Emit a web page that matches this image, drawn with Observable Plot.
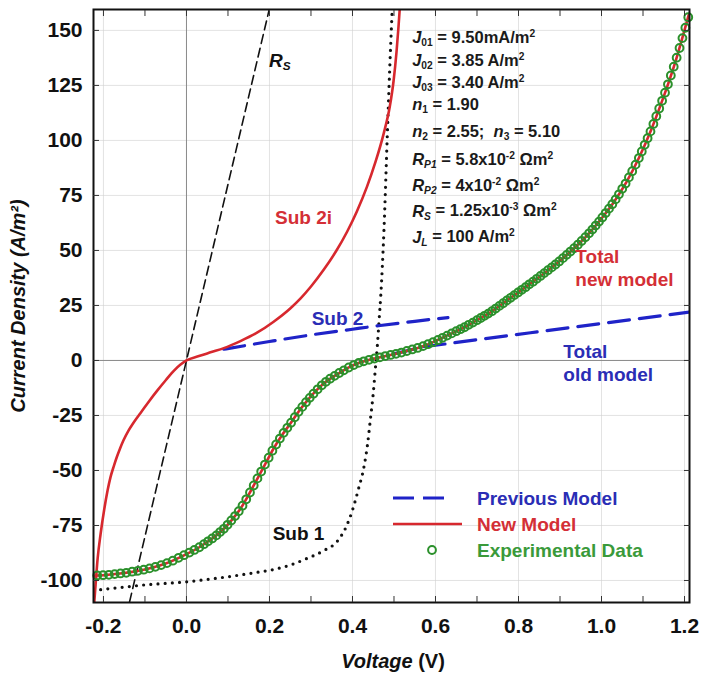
<!DOCTYPE html>
<html><head><meta charset="utf-8">
<script src="https://cdn.jsdelivr.net/npm/d3@7"></script>
<script src="https://cdn.jsdelivr.net/npm/@observablehq/plot@0.6"></script>
<style>
body{margin:0;background:#fff;}
#wrap{position:relative;width:705px;height:675px;font-family:"Liberation Sans",Arial,sans-serif;overflow:hidden;}
.lbl{position:absolute;white-space:nowrap;font-weight:bold;line-height:1;}
.lbl sub{font-size:0.62em;vertical-align:-0.28em;}
.lbl sup{font-size:0.62em;vertical-align:0.6em;}
</style></head><body><div id="wrap"></div>
<script>
// ---- tick values ----
const xTicks = [-0.2, 0, 0.2, 0.4, 0.6, 0.8, 1.0, 1.2];
const xMinor = [-0.2, -0.1, 0, 0.1, 0.2, 0.3, 0.4, 0.5, 0.6, 0.7, 0.8, 0.9, 1.0, 1.1, 1.2];
const yTicks = [-100, -75, -50, -25, 0, 25, 50, 75, 100, 125, 150];

// ---- experimental data (green circles) ----
const expV = [-0.215,-0.201,-0.187,-0.173,-0.159,-0.145,-0.131,-0.117,-0.103,-0.089,-0.075,-0.061,-0.047,-0.033,-0.019,-0.006,
0.007,0.019,0.031,0.042,0.052,0.062,0.072,0.081,0.090,0.099,0.108,0.117,0.126,0.135,0.144,0.153,0.162,0.171,0.180,0.189,0.198,
0.207,0.216,0.225,0.234,0.243,0.252,0.261,0.270,0.279,0.288,0.297,0.306,0.316,0.326,0.336,0.346,0.357,0.368,0.379,0.391,0.403,
0.415,0.427,0.440,0.453,0.466,0.479,0.492,0.505,0.518,0.531,0.544,0.557,0.570,0.582,0.594,0.606,0.617,0.628,0.639,0.650,0.660,
0.670,0.680,0.690,0.700,0.709,0.718,0.727,0.736,0.745,0.754,0.763,0.772,0.781,0.790,0.799,0.808,0.817,0.826,0.835,0.844,0.853,
0.862,0.871,0.880,0.889,0.898,0.907,0.916,0.925,0.934,0.943,0.952,0.961,0.970,0.978,0.986,0.994,1.002,1.010,1.018,1.026,1.034,
1.042,1.050,1.058,1.066,1.074,1.082,1.090,1.097,1.104,1.111,1.118,1.125,1.132,1.139,1.146,1.153,1.160,1.167,1.174,1.181,1.188,
1.195,1.202,1.209];
const expJ = [-97.7,-97.6,-97.4,-97.1,-96.8,-96.5,-96.0,-95.6,-95.1,-94.5,-93.8,-93.0,-92.1,-91.0,-89.7,-88.5,
-87.3,-86.1,-84.9,-83.5,-82.2,-80.9,-79.5,-78.0,-76.5,-74.7,-72.7,-70.7,-68.5,-66.0,-63.1,-60.0,-56.8,-53.6,-50.5,-47.3,-44.2,
-41.0,-38.2,-35.5,-32.9,-30.6,-28.3,-25.8,-23.3,-21.1,-19.0,-17.0,-15.1,-13.1,-11.3,-9.7,-8.3,-7.0,-5.7,-4.5,-3.2,-2.1,
-1.1,-0.4,0.3,0.9,1.4,2.0,2.5,3.0,3.6,4.3,5.0,5.7,6.5,7.4,8.3,9.3,10.3,11.3,12.3,13.3,14.2,
15.1,16.2,17.2,18.3,19.3,20.3,21.3,22.4,23.6,24.8,26.0,27.3,28.5,29.7,30.9,32.1,33.3,34.6,35.8,37.1,38.4,
39.7,41.0,42.3,43.6,45.0,46.5,48.0,49.5,51.0,52.6,54.3,56.0,57.8,59.5,61.3,63.1,65.0,67.0,69.0,71.0,73.2,
75.5,78.0,80.4,83.2,86.0,89.0,92.0,95.0,98.0,101.0,104.1,107.5,111.0,114.5,118.0,121.7,125.5,129.5,133.5,137.6,142.0,
146.5,151.2,156.0];

// ---- new model total (red line under circles) ----
const newV = [-0.224,-0.20,-0.15,-0.10,-0.05,0.00,0.03,0.05,0.07,0.09,0.11,0.13,0.15,0.17,0.19,0.21,0.23,0.25,0.27,0.29,0.31,0.33,
0.35,0.37,0.39,0.41,0.43,0.45,0.47,0.50,0.53,0.57,0.60,0.63,0.67,0.70,0.73,0.76,0.80,0.84,0.87,0.90,0.94,0.97,1.00,1.03,1.06,
1.09,1.12,1.15,1.18,1.21];
const newJ = [-97.8,-97.6,-96.6,-95.0,-92.3,-88.0,-85.0,-82.5,-79.8,-76.5,-72.3,-67.4,-61,-54,-47,-40,-34,-28.8,-23.3,-18.5,-14.2,-10.6,
-7.8,-5.5,-3.3,-1.5,-0.2,0.8,1.6,2.8,4.3,6.5,8.8,11.5,15.1,18.3,21.6,25.6,31,36.5,40.8,45.3,52,57.8,64.5,72,81,
92,105,120,137,157];

// ---- Sub 2i (red) ----
const sub2iV = [-0.223,-0.219,-0.214,-0.207,-0.198,-0.19,-0.183,-0.175,-0.168,-0.16,-0.152,-0.14,-0.13,-0.12,-0.111,-0.09,-0.07,-0.05,
-0.03,-0.015,0,0.03,0.06,0.09,0.13,0.17,0.21,0.25,0.275,0.30,0.331,0.36,0.387,0.41,0.435,0.455,0.475,0.49,0.499,0.506,0.511,0.515,0.518];
const sub2iJ = [-112,-102,-90,-79,-67.5,-59,-53,-48,-44,-40,-36.4,-32,-29,-26.3,-24,-18.5,-13.6,-9,
-4.6,-2,0,2,3.8,5.6,8.8,12.6,17.6,23.6,28.2,33.6,41.3,49.5,58.5,67.5,79,90,103,115.5,127,140,152,163,172];

// ---- Sub 1 (black dotted) ----
const sub1V = [-0.224,-0.15,-0.1,-0.05,0,0.05,0.1,0.17,0.21,0.25,0.29,0.33,0.364,0.385,0.40,0.415,0.427,0.436,0.443,0.45,0.455,
0.46,0.464,0.468,0.476,0.484,0.49,0.497];
const sub1J = [-104.5,-103,-102,-101.3,-100.6,-99.5,-98.3,-96.3,-95,-93,-90,-86.5,-82,-75.5,-68,-58,-49,-38.5,-27,-15,-4,
7,18,29,60,103,134,165];

// ---- Rs (black dashed) ----
const rsV = [-0.145, 0.21];
const rsJ = [-116, 168];

// ---- Sub 2 (blue dashed) ----
const sub2V = [0.09, 0.2, 0.3, 0.4, 0.467, 0.55, 0.63];
const sub2J = [5.1, 8.6, 11.6, 14.2, 15.9, 17.8, 19.5];

// ---- Previous model total (blue dashed) ----
const oldV = [0.50, 0.571, 0.70, 0.829, 1.0, 1.212];
const oldJ = [3.0, 6.2, 9.4, 12.6, 16.8, 22.0];

// ---- curve labels (data coordinates) ----
const midLabels = [
  {text: "Sub 2i", V: 0.282, J: 65, color: "#d42f36"},
  {text: "Sub 2", V: 0.364, J: 19.1, color: "#2a2db5"},
  {text: "Sub 1", V: 0.27, J: -78.6, color: "#111"}
];
const sideLabels = [
  {text: "Total\nnew model", V: 0.937, J: 42.5, color: "#d42f36"},
  {text: "Total\nold model", V: 0.908, J: -0.7, color: "#2a2db5"}
];

const paramLines = [
  "<i>J</i><sub>01</sub> = 9.50mA/m<sup>2</sup>",
  "<i>J</i><sub>02</sub> = 3.85 A/m<sup>2</sup>",
  "<i>J</i><sub>03</sub> = 3.40 A/m<sup>2</sup>",
  "<i>n</i><sub>1</sub> = 1.90",
  "<i>n</i><sub>2</sub> = 2.55;&nbsp; <i>n</i><sub>3</sub> = 5.10",
  "<i>R<sub>P1</sub></i> = 5.8x10<sup>-2</sup> Ωm<sup>2</sup>",
  "<i>R<sub>P2</sub></i> = 4x10<sup>-2</sup> Ωm<sup>2</sup>",
  "<i>R<sub>S</sub></i> = 1.25x10<sup>-3</sup> Ωm<sup>2</sup>",
  "<i>J<sub>L</sub></i> = 100 A/m<sup>2</sup>"
];
const paramY = [37.5, 60, 82, 104.5, 131, 159, 185, 210.5, 236.5];

const legendItems = [
  {label: "Previous Model", color: "#2a2db5"},
  {label: "New Model", color: "#d42f36"},
  {label: "Experimental Data", color: "#3a9a3a"}
];

const pts = (V, J) => V.map((v, i) => ({V: v, J: J[i]}));
const RED = "#d7282e", BLUE = "#1f23c8", GREEN = "#2b902b";

const chart = Plot.plot({
  width: 705, height: 675,
  marginTop: 9, marginBottom: 73, marginLeft: 93, marginRight: 16,
  x: {domain: [-0.224, 1.212]},
  y: {domain: [-110, 159.5]},
  style: {fontFamily: "'Liberation Sans', Arial, sans-serif", background: "white", color: "#111"},
  marks: [
    Plot.gridX(xTicks, {stroke: "#d0d0d0", strokeOpacity: 0.6}),
    Plot.gridY(yTicks, {stroke: "#d0d0d0", strokeOpacity: 0.6}),
    Plot.ruleX([0], {stroke: "#8a8a8a", strokeWidth: 1}),
    Plot.ruleY([0], {stroke: "#8a8a8a", strokeWidth: 1}),
    Plot.line(pts(rsV, rsJ), {x: "V", y: "J", stroke: "#111", strokeWidth: 1.6, strokeDasharray: "9 5", clip: true}),
    Plot.line(pts(sub1V, sub1J), {x: "V", y: "J", stroke: "#111", strokeWidth: 3.2, strokeDasharray: "0 7.2", strokeLinecap: "round", curve: "monotone-x", clip: true}),
    Plot.line(pts(sub2V, sub2J), {x: "V", y: "J", stroke: BLUE, strokeWidth: 3.2, strokeDasharray: "21 10", curve: "monotone-x"}),
    Plot.line(pts(oldV, oldJ), {x: "V", y: "J", stroke: BLUE, strokeWidth: 3.2, strokeDasharray: "21 10", clip: true}),
    Plot.line(pts(sub2iV, sub2iJ), {x: "V", y: "J", stroke: RED, strokeWidth: 2.6, curve: "monotone-x", clip: true}),
    Plot.line(pts(newV, newJ), {x: "V", y: "J", stroke: RED, strokeWidth: 2.6, curve: "monotone-x", clip: true}),
    Plot.dot(pts(expV, expJ), {x: "V", y: "J", r: 3.9, stroke: GREEN, strokeWidth: 2, fill: "none"}),
    Plot.text(midLabels, {x: "V", y: "J", text: "text", fill: d => d.color, textAnchor: "middle",
      fontSize: 19, fontWeight: "bold"}),
    Plot.text(sideLabels, {x: "V", y: "J", text: "text", fill: d => d.color, textAnchor: "start",
      fontSize: 19, fontWeight: "bold", lineHeight: 1.2}),
    Plot.text(["Current Density (A/m²)"], {frameAnchor: "left", rotate: -90, dx: -75, textAnchor: "middle",
      fontSize: 20, fontWeight: "bold", fontStyle: "italic", fill: "#111"}),
    Plot.frame({stroke: "#111", strokeWidth: 2}),
    Plot.axisX(xTicks, {anchor: "bottom", tickSize: 0, tickPadding: 16, fontSize: 21, fontWeight: "bold", tickFormat: d => d.toFixed(1), label: null}),
    Plot.axisY(yTicks, {anchor: "left", tickSize: 0, tickPadding: 11, fontSize: 21, fontWeight: "bold", tickFormat: d => String(d), label: null}),
    Plot.axisX(xMinor, {anchor: "bottom", tickSize: -6, fill: "none", label: null, stroke: "#333"}),
    Plot.axisX(xMinor, {anchor: "top", tickSize: -6, fill: "none", label: null, stroke: "#333"}),
    Plot.axisY(yTicks, {anchor: "left", tickSize: -6, fill: "none", label: null, stroke: "#333"}),
    Plot.axisY(yTicks, {anchor: "right", tickSize: -6, fill: "none", label: null, stroke: "#333"})
  ]
});

const wrap = document.getElementById("wrap");
wrap.appendChild(chart);

const sx = chart.scale("x"), sy = chart.scale("y");
const fx = sx.apply ? v => sx.apply(v) : d3.scaleLinear(sx.domain, sx.range);
const fy = sy.apply ? v => sy.apply(v) : d3.scaleLinear(sy.domain, sy.range);

function place(html, x, cy, fs, color, anchor = "start") {
  const d = document.createElement("div");
  d.className = "lbl";
  d.innerHTML = html;
  d.style.fontSize = fs + "px";
  d.style.color = color;
  d.style.top = (cy - 0.49 * fs) + "px";
  d.style.left = x + "px";
  if (anchor === "middle") d.style.transform = "translateX(-50%)";
  wrap.appendChild(d);
  return d;
}

// R_S label near the series-resistance line
place("<i>R<sub>S</sub></i>", fx(0.2), fy(136), 19, "#111");

// parameter block
paramLines.forEach((t, i) => place(t, fx(0.545), paramY[i], 16.5, "#1a1a1a"));

// x-axis title
place("<i>Voltage</i> (V)", 393, 661, 20, "#111", "middle");

// legend (inside the frame, lower right)
const legY = [498, 524, 550];
const ns = "http://www.w3.org/2000/svg";
const lg = document.createElementNS(ns, "svg");
lg.setAttribute("width", 705); lg.setAttribute("height", 675);
lg.style.cssText = "position:absolute;left:0;top:0;pointer-events:none;";
wrap.appendChild(lg);
function sline(x1, x2, y, stroke, w, dash) {
  const l = document.createElementNS(ns, "line");
  l.setAttribute("x1", x1); l.setAttribute("x2", x2); l.setAttribute("y1", y); l.setAttribute("y2", y);
  l.setAttribute("stroke", stroke); l.setAttribute("stroke-width", w);
  if (dash) l.setAttribute("stroke-dasharray", dash);
  lg.appendChild(l);
}
sline(393, 451, legY[0], BLUE, 3.2, "21 9");
sline(393, 462, legY[1], RED, 2.6);
const c = document.createElementNS(ns, "circle");
c.setAttribute("cx", 432); c.setAttribute("cy", legY[2]); c.setAttribute("r", 3.9);
c.setAttribute("fill", "none"); c.setAttribute("stroke", GREEN); c.setAttribute("stroke-width", 2);
lg.appendChild(c);
legendItems.forEach((it, i) => place(it.label, 477, legY[i], 19, it.color));
</script></body></html>
